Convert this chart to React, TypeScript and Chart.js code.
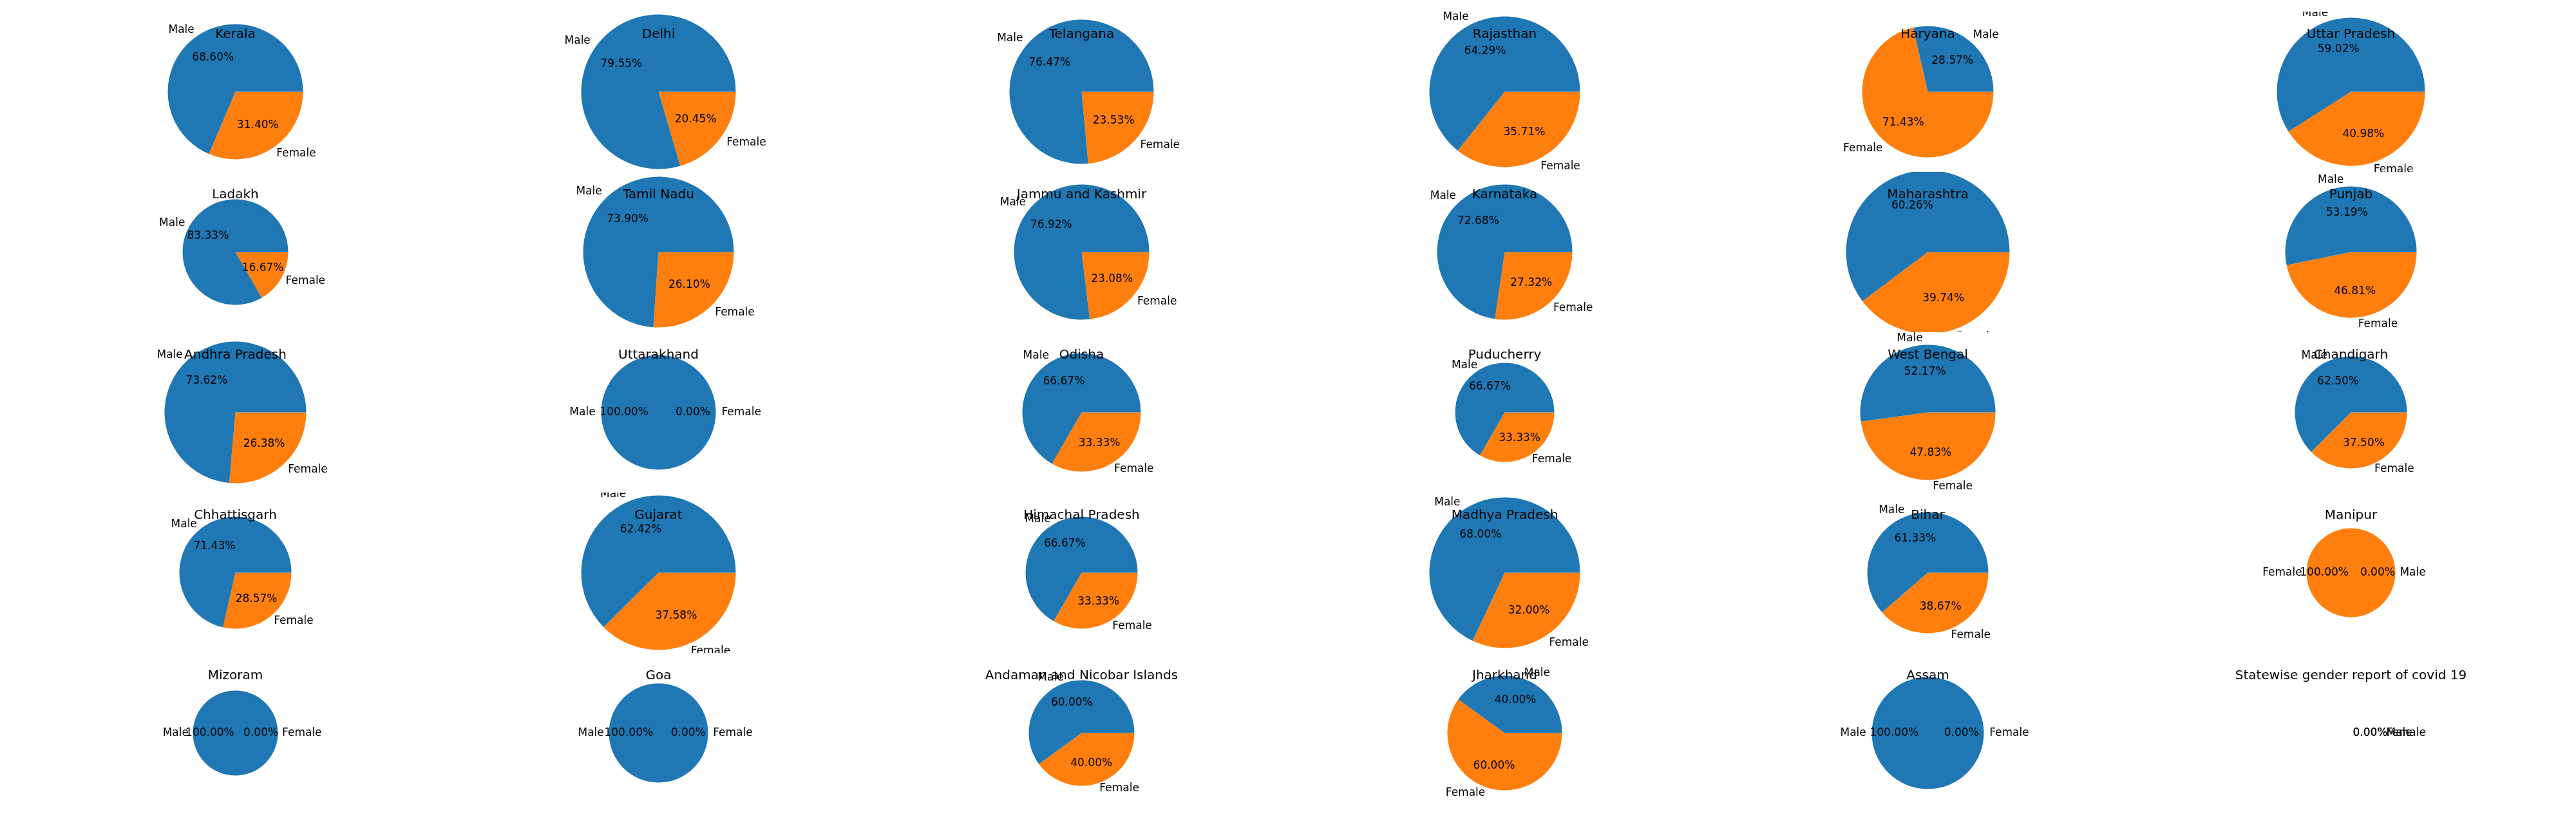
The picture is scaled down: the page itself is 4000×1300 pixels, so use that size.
import Chart from "chart.js/auto";
import {useRef, useEffect} from "react";

const states = [
  "Kerala", "Delhi", "Telangana", "Rajasthan", "Haryana", "Uttar Pradesh",
  "Ladakh", "Tamil Nadu", "Jammu and Kashmir", "Karnataka", "Maharashtra", "Punjab",
  "Andhra Pradesh", "Uttarakhand", "Odisha", "Puducherry", "West Bengal", "Chandigarh",
  "Chhattisgarh", "Gujarat", "Himachal Pradesh", "Madhya Pradesh", "Bihar", "Manipur",
  "Mizoram", "Goa", "Andaman and Nicobar Islands", "Jharkhand", "Assam",
  "Statewise gender report of covid 19",
];

// first slice / second slice, in matplotlib's counter-clockwise order
const firstValues = [
  68.6, 79.55, 76.47, 64.29, 28.57, 59.02,
  83.33, 73.9, 76.92, 72.68, 60.26, 53.19,
  73.62, 100, 66.67, 66.67, 52.17, 62.5,
  71.43, 62.42, 66.67, 68.0, 61.33, 100,
  100, 100, 60, 40, 100, 0,
];
const secondValues = [
  31.4, 20.45, 23.53, 35.71, 71.43, 40.98,
  16.67, 26.1, 23.08, 27.32, 39.74, 46.81,
  26.38, 0, 33.33, 33.33, 47.83, 37.5,
  28.57, 37.58, 33.33, 32.0, 38.67, 0,
  0, 0, 40, 60, 0, 0,
];
const defaultLabels = ["Male", "Female"];
const manipurLabels = ["Female", "Male"];

// pie radius in pixels, per state
const radii = [
  105, 120, 112, 117, 102, 115,
  82, 117, 105, 105, 127, 102,
  110, 89, 92, 77, 105, 87,
  87, 120, 87, 117, 94, 69,
  66, 77, 82, 89, 87, 50,
];

const BLUE = "#1f77b4";
const ORANGE = "#ff7f0e";
const CELL_W = 657;
const CELL_H = 249;

const labelPlugin = {
  id: "mplLabels",
  afterDatasetsDraw(chart: any) {
    const ctx = chart.ctx;
    const meta = chart.getDatasetMeta(0);
    const labels: string[] = chart.data.labels;
    const vals: number[] = chart.data.datasets[0].data;
    const total = vals.reduce((a, b) => a + b, 0);
    ctx.save();
    ctx.fillStyle = "#000";
    ctx.font = "17px 'DejaVu Sans'";
    ctx.textBaseline = "middle";
    meta.data.forEach((arc: any, i: number) => {
      const p = arc.getProps(["x", "y", "startAngle", "endAngle", "outerRadius"], true);
      const r = chart.options.radiusPx;
      const mid = total ? (p.startAngle + p.endAngle) / 2 : 0;
      const cx = chart.chartArea.left + chart.chartArea.width / 2;
      const cy = chart.chartArea.top + chart.chartArea.height / 2;
      const c = Math.cos(mid), s = Math.sin(mid);
      ctx.textAlign = c < -0.01 ? "right" : "left";
      ctx.fillText(labels[i], cx + c * r * 1.1, cy + s * r * 1.1);
      ctx.textAlign = "center";
      const pct = total ? (vals[i] / total) * 100 : 0;
      ctx.fillText(pct.toFixed(2) + "%", cx + c * r * 0.6, cy + s * r * 0.6);
    });
    ctx.restore();
  },
};

const Pie = ({idx}: {idx: number}) => {
  const ref = useRef<HTMLCanvasElement | null>(null);
  useEffect(() => {
    if (!ref.current) return;
    const labels = states[idx] === "Manipur" ? manipurLabels : defaultLabels;
    // chart.js goes clockwise, so reverse order and start at 3 o'clock
    const data = [secondValues[idx], firstValues[idx]];
    const labs = [labels[1], labels[0]];
    const chart = new Chart(ref.current, {
      type: "pie",
      data: {
        labels: labs,
        datasets: [{
          data,
          backgroundColor: labs.map((l) => (l === "Male" ? BLUE : ORANGE)),
          borderWidth: 0,
          radius: radii[idx],
        }],
      },
      options: {
        responsive: false,
        animation: false,
        rotation: 90,
        radiusPx: radii[idx],
        layout: {padding: 0},
        plugins: {legend: {display: false}, tooltip: {enabled: false}},
      } as any,
      plugins: [labelPlugin],
    });
    return () => chart.destroy();
  }, [idx]);
  return (
    <div style={{position: "relative", width: CELL_W, height: CELL_H}}>
      <canvas ref={ref} width={CELL_W} height={CELL_H} style={{display: "block"}} />
      <div style={{position: "absolute", top: 22, left: 0, width: CELL_W, textAlign: "center",
        fontFamily: "'DejaVu Sans'", fontSize: 20, color: "#000"}}>{states[idx]}</div>
    </div>
  );
};

const App = () => {
  useEffect(() => {
    document.body.style.margin = "0";
  }, []);
  return (
    <div style={{width: 4000, height: 1300, background: "#fff", paddingLeft: 37, paddingTop: 18,
      boxSizing: "border-box", display: "grid", gridTemplateColumns: `repeat(6, ${CELL_W}px)`,
      gridAutoRows: `${CELL_H}px`}}>
      {states.map((_, i) => <Pie key={i} idx={i} />)}
    </div>
  );
};

export default App;
